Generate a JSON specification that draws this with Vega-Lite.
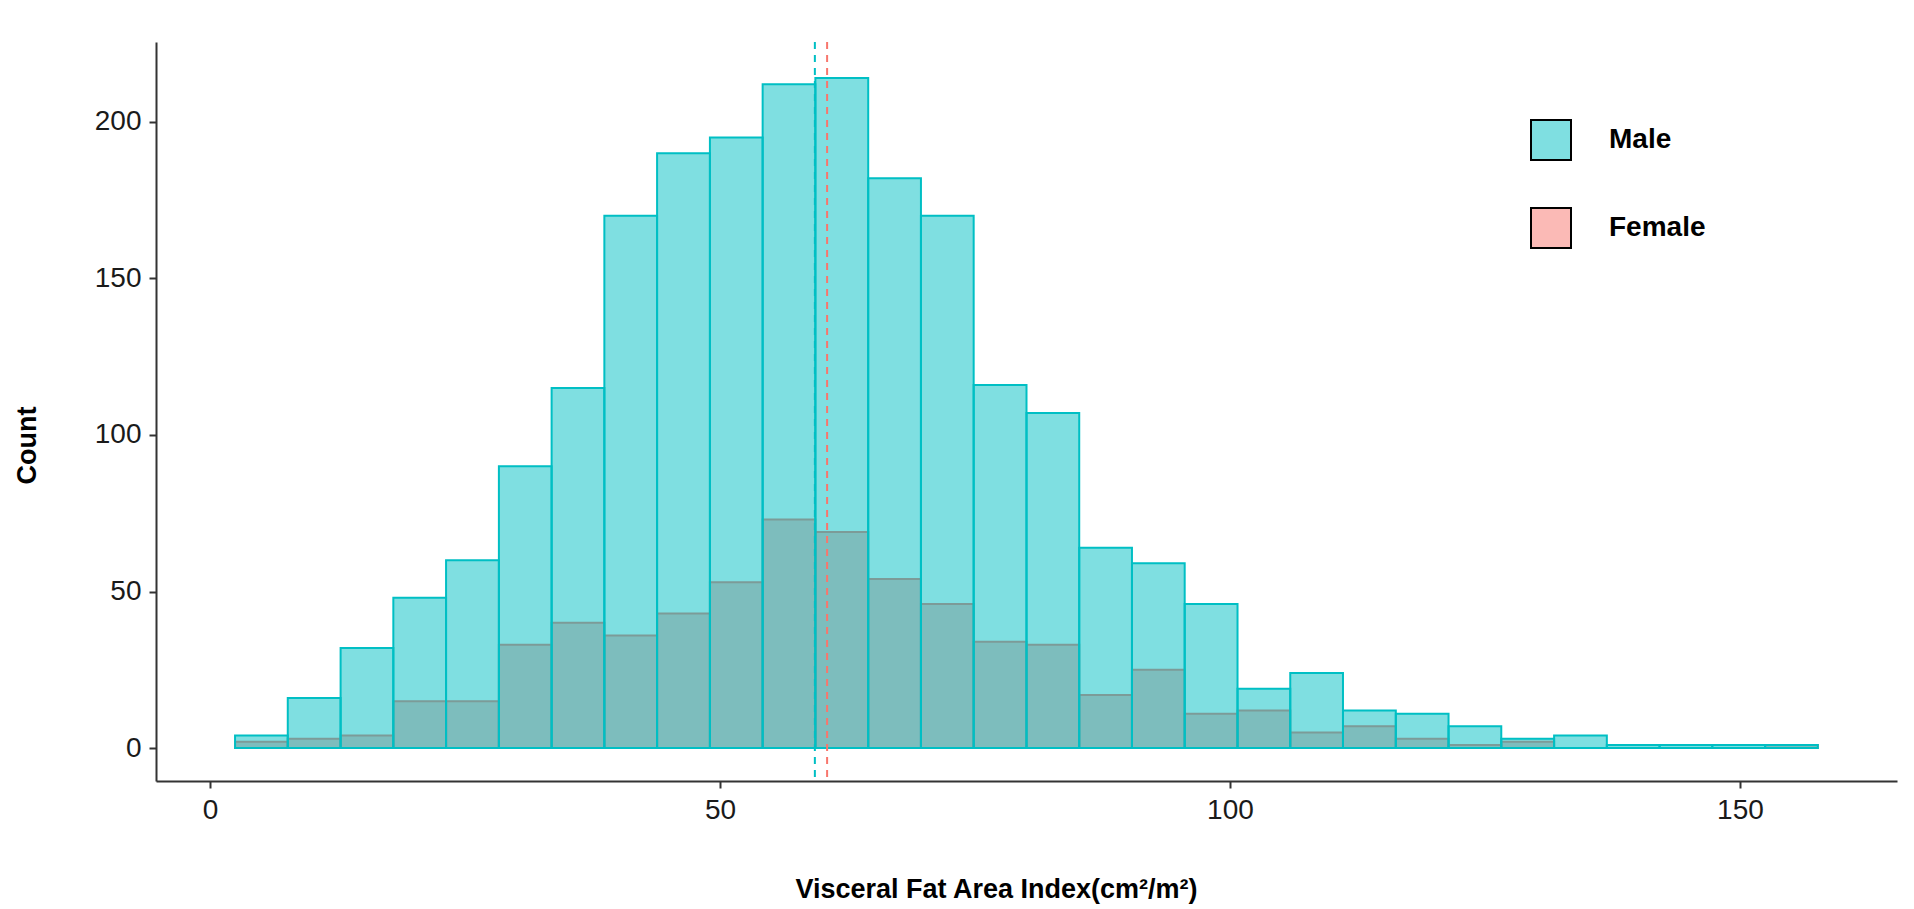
{
  "$schema": "https://vega.github.io/schema/vega-lite/v6.json",
  "width": 1741,
  "height": 739,
  "autosize": {"type": "none"},
  "padding": {"left": 156, "top": 42, "right": 17, "bottom": 128},
  "background": "white",
  "config": {
    "view": {"stroke": null},
    "font": "Liberation Sans",
    "axis": {
      "grid": false,
      "domainColor": "#333333",
      "domainWidth": 2,
      "tickColor": "#333333",
      "tickWidth": 2,
      "tickSize": 7,
      "labelFont": "Liberation Sans",
      "labelFontSize": 28,
      "labelColor": "#1a1a1a",
      "labelPadding": 8,
      "titleFont": "Liberation Sans",
      "titleFontSize": 27,
      "titleFontWeight": "bold",
      "titleColor": "#000000"
    }
  },
  "datasets": {
    "bins": [
      {"sex": "Female", "start": 2.45, "end": 7.62, "count": 2},
      {"sex": "Female", "start": 7.62, "end": 12.80, "count": 3},
      {"sex": "Female", "start": 12.80, "end": 17.97, "count": 4},
      {"sex": "Female", "start": 17.97, "end": 23.14, "count": 15},
      {"sex": "Female", "start": 23.14, "end": 28.32, "count": 15},
      {"sex": "Female", "start": 28.32, "end": 33.49, "count": 33},
      {"sex": "Female", "start": 33.49, "end": 38.66, "count": 40},
      {"sex": "Female", "start": 38.66, "end": 43.83, "count": 36},
      {"sex": "Female", "start": 43.83, "end": 49.01, "count": 43},
      {"sex": "Female", "start": 49.01, "end": 54.18, "count": 53},
      {"sex": "Female", "start": 54.18, "end": 59.35, "count": 73},
      {"sex": "Female", "start": 59.35, "end": 64.53, "count": 69},
      {"sex": "Female", "start": 64.53, "end": 69.70, "count": 54},
      {"sex": "Female", "start": 69.70, "end": 74.87, "count": 46},
      {"sex": "Female", "start": 74.87, "end": 80.05, "count": 34},
      {"sex": "Female", "start": 80.05, "end": 85.22, "count": 33},
      {"sex": "Female", "start": 85.22, "end": 90.39, "count": 17},
      {"sex": "Female", "start": 90.39, "end": 95.56, "count": 25},
      {"sex": "Female", "start": 95.56, "end": 100.74, "count": 11},
      {"sex": "Female", "start": 100.74, "end": 105.91, "count": 12},
      {"sex": "Female", "start": 105.91, "end": 111.08, "count": 5},
      {"sex": "Female", "start": 111.08, "end": 116.26, "count": 7},
      {"sex": "Female", "start": 116.26, "end": 121.43, "count": 3},
      {"sex": "Female", "start": 121.43, "end": 126.60, "count": 1},
      {"sex": "Female", "start": 126.60, "end": 131.78, "count": 2},
      {"sex": "Female", "start": 152.47, "end": 157.64, "count": 1},
      {"sex": "Male", "start": 2.45, "end": 7.62, "count": 4},
      {"sex": "Male", "start": 7.62, "end": 12.80, "count": 16},
      {"sex": "Male", "start": 12.80, "end": 17.97, "count": 32},
      {"sex": "Male", "start": 17.97, "end": 23.14, "count": 48},
      {"sex": "Male", "start": 23.14, "end": 28.32, "count": 60},
      {"sex": "Male", "start": 28.32, "end": 33.49, "count": 90},
      {"sex": "Male", "start": 33.49, "end": 38.66, "count": 115},
      {"sex": "Male", "start": 38.66, "end": 43.83, "count": 170},
      {"sex": "Male", "start": 43.83, "end": 49.01, "count": 190},
      {"sex": "Male", "start": 49.01, "end": 54.18, "count": 195},
      {"sex": "Male", "start": 54.18, "end": 59.35, "count": 212},
      {"sex": "Male", "start": 59.35, "end": 64.53, "count": 214},
      {"sex": "Male", "start": 64.53, "end": 69.70, "count": 182},
      {"sex": "Male", "start": 69.70, "end": 74.87, "count": 170},
      {"sex": "Male", "start": 74.87, "end": 80.05, "count": 116},
      {"sex": "Male", "start": 80.05, "end": 85.22, "count": 107},
      {"sex": "Male", "start": 85.22, "end": 90.39, "count": 64},
      {"sex": "Male", "start": 90.39, "end": 95.56, "count": 59},
      {"sex": "Male", "start": 95.56, "end": 100.74, "count": 46},
      {"sex": "Male", "start": 100.74, "end": 105.91, "count": 19},
      {"sex": "Male", "start": 105.91, "end": 111.08, "count": 24},
      {"sex": "Male", "start": 111.08, "end": 116.26, "count": 12},
      {"sex": "Male", "start": 116.26, "end": 121.43, "count": 11},
      {"sex": "Male", "start": 121.43, "end": 126.60, "count": 7},
      {"sex": "Male", "start": 126.60, "end": 131.78, "count": 3},
      {"sex": "Male", "start": 131.78, "end": 136.95, "count": 4},
      {"sex": "Male", "start": 136.95, "end": 142.12, "count": 1},
      {"sex": "Male", "start": 142.12, "end": 147.29, "count": 1},
      {"sex": "Male", "start": 147.29, "end": 152.47, "count": 1},
      {"sex": "Male", "start": 152.47, "end": 157.64, "count": 1}
    ],
    "means": [
      {"sex": "Male", "mean": 59.3},
      {"sex": "Female", "mean": 60.5}
    ]
  },
  "layer": [
    {
      "data": {"name": "bins"},
      "transform": [{"filter": "datum.sex === 'Female'"}],
      "mark": {"type": "bar", "stroke": "#F8766D", "strokeWidth": 2},
      "encoding": {
        "x": {"field": "start", "type": "quantitative", "scale": {"domain": [-5.3, 165.4], "nice": false, "zero": false}, "axis": {"values": [0, 50, 100, 150], "title": "Visceral Fat Area Index(cm²/m²)", "titleX": 840, "titleY": 108, "titleBaseline": "middle", "titleAlign": "center"}},
        "x2": {"field": "end"},
        "y": {"field": "count", "type": "quantitative", "scale": {"domain": [-10.5, 225.5], "nice": false, "zero": false}, "axis": {"values": [0, 50, 100, 150, 200], "title": "Count", "titleX": -129, "titleY": 403, "titleBaseline": "middle", "titleAlign": "center", "titleAngle": -90}},
        "y2": {"datum": 0},
        "fill": {"field": "sex", "type": "nominal", "scale": {"domain": ["Male", "Female"], "range": ["rgba(0,191,196,0.5)", "rgba(248,118,109,0.5)"]},
          "legend": {"title": null, "orient": "none", "legendX": 1374, "legendY": 77, "padding": 0, "symbolType": "square", "symbolSize": 1600, "symbolStrokeColor": "black", "symbolStrokeWidth": 2, "rowPadding": 40, "labelOffset": 37, "labelFontSize": 28, "labelFontWeight": "bold", "labelColor": "#000000", "labelFont": "Liberation Sans"}}
      }
    },
    {
      "data": {"name": "means"},
      "mark": {"type": "bar", "stroke": "black", "strokeWidth": 2, "fillOpacity": 0, "strokeOpacity": 0},
      "encoding": {
        "x": {"field": "mean", "type": "quantitative"},
        "x2": {"field": "mean"},
        "y": {"datum": 0, "type": "quantitative"},
        "y2": {"datum": 0},
        "fill": {"field": "sex", "type": "nominal"}
      }
    },
    {
      "data": {"name": "bins"},
      "transform": [{"filter": "datum.sex === 'Male'"}],
      "mark": {"type": "bar", "stroke": "#00BFC4", "strokeWidth": 2},
      "encoding": {
        "x": {"field": "start", "type": "quantitative"},
        "x2": {"field": "end"},
        "y": {"field": "count", "type": "quantitative"},
        "y2": {"datum": 0},
        "fill": {"field": "sex", "type": "nominal"}
      }
    },
    {
      "data": {"name": "means"},
      "transform": [{"filter": "datum.sex === 'Male'"}],
      "mark": {"type": "rule", "strokeWidth": 2, "strokeDash": [7, 6], "stroke": "#00BFC4"},
      "encoding": {
        "x": {"field": "mean", "type": "quantitative"}
      }
    },
    {
      "data": {"name": "means"},
      "transform": [{"filter": "datum.sex === 'Female'"}],
      "mark": {"type": "rule", "strokeWidth": 2, "strokeDash": [7, 6], "stroke": "#F8766D"},
      "encoding": {
        "x": {"field": "mean", "type": "quantitative"}
      }
    }
  ]
}
